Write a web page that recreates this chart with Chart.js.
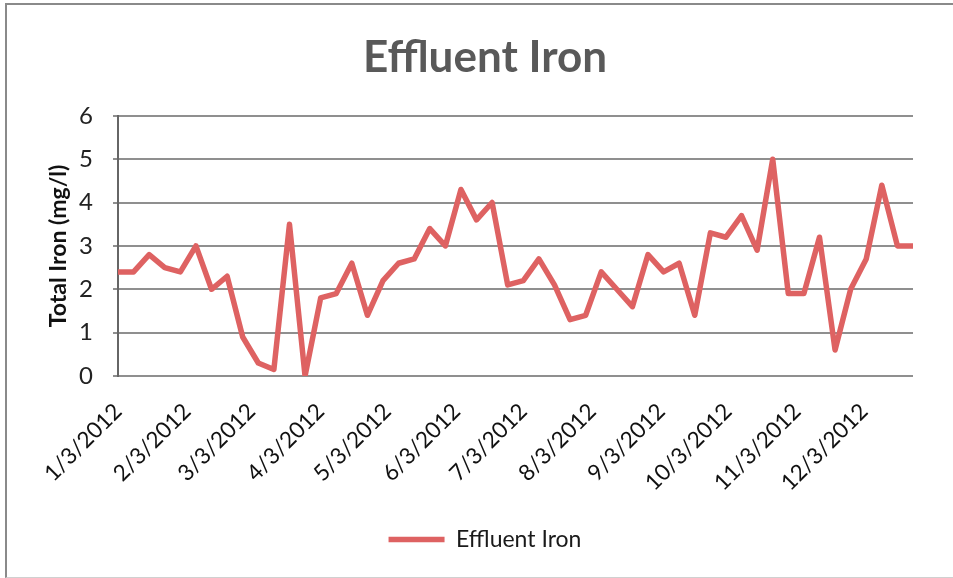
<!DOCTYPE html>
<html>
<head>
<meta charset="utf-8">
<title>Effluent Iron</title>
<script src="https://cdn.jsdelivr.net/npm/chart.js@4.4.0/dist/chart.umd.min.js"></script>
<style>
  html, body { margin: 0; padding: 0; background: #fff; }
  #wrap { position: relative; width: 953px; height: 578px; overflow: hidden; }
  #frame {
    position: absolute; left: 5px; top: 3px; width: 960px; height: 572px;
    border-left: 2px solid #8a8a8a; border-top: 2px solid #8a8a8a; border-bottom: 1px solid #d0d0d0;
    pointer-events: none;
  }
</style>
</head>
<body>
<div id="wrap">
  <canvas id="ironChart" width="953" height="578"></canvas>
  <div id="frame"></div>
</div>
<script>
// weekly sample dates (x) and measured total iron (y)
const sampleDates = [
  '2012-01-03', '2012-01-10', '2012-01-17', '2012-01-24', '2012-01-31',
  '2012-02-07', '2012-02-14', '2012-02-21', '2012-02-28',
  '2012-03-06', '2012-03-13', '2012-03-20', '2012-03-27',
  '2012-04-03', '2012-04-10', '2012-04-17', '2012-04-24',
  '2012-05-01', '2012-05-08', '2012-05-15', '2012-05-22', '2012-05-29',
  '2012-06-05', '2012-06-12', '2012-06-19', '2012-06-26',
  '2012-07-03', '2012-07-10', '2012-07-17', '2012-07-24', '2012-07-31',
  '2012-08-07', '2012-08-14', '2012-08-21', '2012-08-28',
  '2012-09-04', '2012-09-11', '2012-09-18', '2012-09-25',
  '2012-10-02', '2012-10-09', '2012-10-16', '2012-10-23', '2012-10-30',
  '2012-11-06', '2012-11-13', '2012-11-20', '2012-11-27',
  '2012-12-04', '2012-12-11', '2012-12-18', '2012-12-25'
];
const ironValues = [
  2.4, 2.4, 2.8, 2.5, 2.4,
  3.0, 2.0, 2.3, 0.9,
  0.3, 0.15, 3.5, 0.0,
  1.8, 1.9, 2.6, 1.4,
  2.2, 2.6, 2.7, 3.4, 3.0,
  4.3, 3.6, 4.0, 2.1,
  2.2, 2.7, 2.1, 1.3, 1.4,
  2.4, 2.0, 1.6, 2.8,
  2.4, 2.6, 1.4, 3.3,
  3.2, 3.7, 2.9, 5.0, 1.9,
  1.9, 3.2, 0.6, 2.0,
  2.7, 4.4, 3.0, 3.0
];
const monthTickDates = [
  '2012-01-03', '2012-02-03', '2012-03-03', '2012-04-03', '2012-05-03', '2012-06-03',
  '2012-07-03', '2012-08-03', '2012-09-03', '2012-10-03', '2012-11-03', '2012-12-03'
];
const yTickValues = [0, 1, 2, 3, 4, 5, 6];

const DAY = 86400000;
function toUTC(s) {
  const [y, m, d] = s.split('-').map(Number);
  return Date.UTC(y, m - 1, d);
}
const startMs = toUTC(sampleDates[0]);
const dayOffset = s => Math.round((toUTC(s) - startMs) / DAY);
const shortDate = s => {
  const [y, m, d] = s.split('-').map(Number);
  return m + '/' + d + '/' + y;
};

const tickLabels = {};
monthTickDates.forEach(s => { tickLabels[dayOffset(s)] = shortDate(s); });

const points = sampleDates.map((s, i) => ({ x: dayOffset(s), y: ironValues[i] }));

Chart.defaults.font.family = 'Lato';

const lineColor = 'rgb(222, 98, 98)';
const gridColor = '#8f8f8f';

const ctx = document.getElementById('ironChart').getContext('2d');
const chart = new Chart(ctx, {
  type: 'line',
  data: {
    datasets: [{
      label: 'Effluent Iron',
      data: points,
      borderColor: lineColor,
      backgroundColor: lineColor,
      borderWidth: 5.5,
      borderCapStyle: 'round',
      borderJoinStyle: 'round',
      pointRadius: 0,
      tension: 0
    }]
  },
  options: {
    responsive: false,
    animation: false,
    layout: {
      padding: { left: 57, right: 40, top: 0, bottom: 17 }
    },
    plugins: {
      title: {
        display: true,
        text: 'Effluent Iron',
        color: '#595959',
        font: { size: 44, weight: 'bold' },
        padding: { top: 31, bottom: 32 }
      },
      legend: {
        position: 'bottom',
        labels: {
          usePointStyle: true,
          pointStyle: 'line',
          pointStyleWidth: 56,
          color: '#1a1a1a',
          font: { size: 23 },
          padding: 10
        }
      },
      tooltip: { enabled: false }
    },
    scales: {
      x: {
        type: 'linear',
        min: 0,
        max: dayOffset(sampleDates[sampleDates.length - 1]),
        afterBuildTicks: scale => {
          scale.ticks = monthTickDates.map(s => ({ value: dayOffset(s) }));
        },
        afterFit: scale => { scale.height = 142; },
        grid: { display: false, drawTicks: false, tickLength: 0 },
        border: { display: false },
        ticks: {
          autoSkip: false,
          minRotation: 45,
          maxRotation: 45,
          padding: 22,
          color: '#111',
          font: { size: 22.5 },
          callback: value => tickLabels[value] || ''
        }
      },
      y: {
        min: 0,
        max: 6,
        afterBuildTicks: scale => {
          scale.ticks = yTickValues.map(v => ({ value: v }));
        },
        afterFit: scale => { scale.width = 61; },
        grid: { color: gridColor, lineWidth: 2, tickLength: 5 },
        border: { color: '#666', width: 2 },
        ticks: {
          padding: 20,
          color: '#222',
          font: { size: 24 }
        },
        title: {
          display: true,
          text: 'Total Iron (mg/l)',
          color: '#111',
          font: { size: 23, weight: 'bold' },
          padding: { top: -12, bottom: 0 }
        }
      }
    }
  }
});
</script>
</body>
</html>
